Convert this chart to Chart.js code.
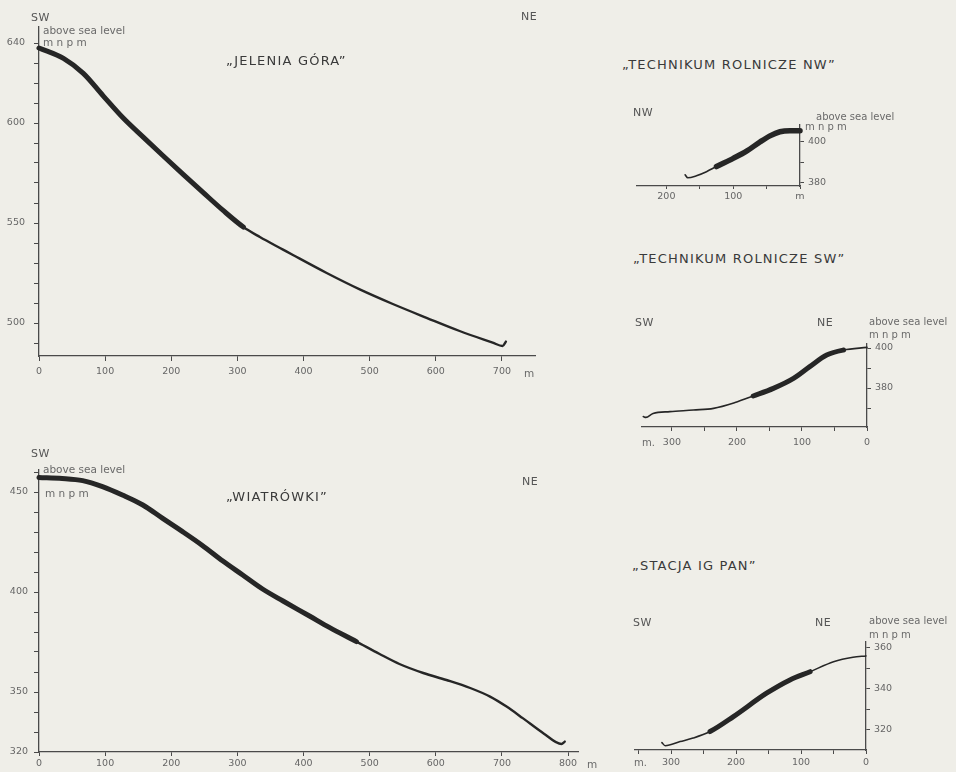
<!DOCTYPE html>
<html>
<head>
<meta charset="utf-8">
<script src="https://cdn.jsdelivr.net/npm/chart.js@4.4.1/dist/chart.umd.min.js"></script>
<style>
  html, body { margin: 0; padding: 0; background: #efeee8; }
  #sheet { position: relative; width: 956px; height: 772px; overflow: hidden; background: #efeee8; font-family: 'DejaVu Sans', sans-serif; }
  #sheet canvas { position: absolute; }
  .t { position: absolute; white-space: nowrap; transform: translateY(-50%); line-height: 1; }
  .title { font-size: 13px; letter-spacing: 1.2px; color: #3a3a3a; }
  .dir { font-size: 11px; color: #555; letter-spacing: 0.5px; }
  .unit { font-size: 10.5px; color: #6a6a6a; }
  .unit-s { font-size: 10px; color: #6a6a6a; }
</style>
</head>
<body>
<div id="sheet"></div>
<script>
// Slope profiles: distance along the profile (m) and elevation (m a.s.l.)

// "Jelenia Góra", SW -> NE
const JG_DIST = [0, 37, 67, 97, 127, 158, 188, 218, 248, 278, 309, 334, 369, 384, 435, 485, 535, 586, 636, 686, 701, 706];
const JG_ELEV = [637.5, 632.3, 624.8, 613.6, 602.6, 592.8, 583.5, 574.3, 565.3, 556.4, 548, 543, 536.7, 534, 525, 516.8, 509.5, 502.6, 496, 490.2, 488.5, 490.7];
const JG_BOLD = [0, 309];
const JG_Y_LABELS = [640, 600, 550, 500];

// "Wiatrówki", SW -> NE
const WI_DIST = [0, 35, 66, 96, 126, 157, 187, 217, 247, 278, 308, 338, 369, 409, 439, 480, 515, 545, 581, 616, 652, 682, 707, 732, 763, 790, 795];
const WI_ELEV = [457.3, 456.8, 455.7, 452.7, 448.5, 443.5, 436.8, 430.2, 423.3, 415.5, 408.5, 401.5, 395.5, 388, 382.3, 375.2, 369, 364, 359.5, 356, 352, 347.7, 342.7, 336.8, 329.3, 324, 325.2];
const WI_BOLD = [0, 482];
const WI_Y_LABELS = [450, 400, 350, 320];

// "Technikum Rolnicze NW" (distance counted from the station, NW to the left)
const NW_DIST = [172, 168, 155, 140, 125, 100, 80, 60, 45, 30, 15, 0];
const NW_ELEV = [384, 382.5, 383.5, 385.5, 388, 392, 395.5, 400, 403, 405, 405.5, 405.5];
const NW_BOLD = [0, 130];
const NW_Y_LABELS = [400, 380];
const NW_X_LABELS = [200, 100];

// "Technikum Rolnicze SW"
const SW_DIST = [344, 340, 329, 303, 267, 236, 203, 175, 144, 113, 88, 62, 36, 0];
const SW_ELEV = [365.7, 365.3, 367.3, 368.2, 369, 369.8, 372.7, 376, 379.8, 384.8, 390.7, 396.5, 399, 400.3];
const SW_BOLD = [5, 175];
const SW_Y_LABELS = [400, 380];
const SW_X_LABELS = [300, 200, 100, 0];

// "Stacja IG PAN"
const IG_DIST = [314, 309, 286, 266, 240, 204, 153, 117, 86, 50, 20, 0];
const IG_ELEV = [313.8, 312.3, 314.3, 316, 319.2, 326.5, 337.9, 344.4, 348.4, 353.3, 355.5, 356.1];
const IG_BOLD = [86, 240];
const IG_Y_LABELS = [360, 340, 320];
const IG_X_LABELS = [300, 200, 100, 0];

const INK = '#262626';
const AXIS = '#4a4a4a';
const LABEL = '#666';
const TICK_FONT = { family: "'DejaVu Sans', sans-serif", size: 9.5 };

const sheet = document.getElementById('sheet');

function profile(o) {
  const c = document.createElement('canvas');
  c.width = o.box.w; c.height = o.box.h;
  c.style.left = o.box.x + 'px'; c.style.top = o.box.y + 'px';
  sheet.appendChild(c);
  const right = !!o.yRight;
  const yW = right ? (o.box.x + o.box.w - o.area.r) : (o.area.l - o.box.x);
  const xH = o.box.y + o.box.h - o.area.b;
  const inBold = ctx => {
    const a = ctx.p0.parsed.x, b = ctx.p1.parsed.x;
    return Math.min(a, b) >= o.bold[0] - 0.01 && Math.max(a, b) <= o.bold[1] + 0.01;
  };
  return new Chart(c, {
    type: 'line',
    data: {
      datasets: [{
        data: o.dist.map((d, i) => ({ x: d, y: o.elev[i] })),
        borderColor: INK,
        borderWidth: o.thin,
        pointRadius: 0,
        cubicInterpolationMode: 'monotone',
        borderCapStyle: 'round',
        borderJoinStyle: 'round',
        clip: 10,
        segment: { borderWidth: ctx => inBold(ctx) ? o.thick : o.thin }
      }]
    },
    options: {
      responsive: false,
      animation: false,
      devicePixelRatio: 1,
      events: [],
      layout: {
        padding: {
          left: right ? o.area.l - o.box.x : 0,
          right: right ? 0 : o.box.x + o.box.w - o.area.r,
          top: o.area.t - o.box.y,
          bottom: 0
        }
      },
      plugins: { legend: { display: false }, tooltip: { enabled: false } },
      scales: {
        x: {
          type: 'linear',
          min: o.x.min, max: o.x.max, reverse: !!o.x.reverse,
          afterFit: s => { s.height = xH; },
          border: { color: AXIS, width: 1.3 },
          grid: { drawOnChartArea: false, tickLength: o.x.tl, tickColor: AXIS, tickWidth: 1 },
          ticks: {
            stepSize: o.x.step, includeBounds: false, autoSkip: false, maxRotation: 0,
            padding: o.x.pad, color: LABEL, font: TICK_FONT,
            callback: v => o.x.label(v)
          }
        },
        y: {
          type: 'linear',
          position: right ? 'right' : 'left',
          min: o.y.min, max: o.y.max,
          afterFit: s => { s.width = yW; },
          border: { color: AXIS, width: 1.3 },
          grid: { drawOnChartArea: false, tickLength: o.y.tl, tickColor: AXIS, tickWidth: 1 },
          ticks: {
            stepSize: 10, includeBounds: false, autoSkip: false,
            padding: o.y.pad, color: LABEL, font: TICK_FONT,
            callback: v => o.y.labels.includes(v) ? String(v) : ''
          }
        }
      }
    }
  });
}

profile({
  box: { x: 0, y: 0, w: 560, h: 385 }, area: { l: 39, r: 535, t: 27, b: 356 },
  dist: JG_DIST, elev: JG_ELEV, bold: JG_BOLD, thick: 5, thin: 2.4,
  x: { min: 0, max: 750, step: 100, tl: 5, pad: 5, label: v => String(v) },
  y: { min: 483.5, max: 648, tl: 5, pad: 9, labels: JG_Y_LABELS }
});

profile({
  box: { x: 0, y: 440, w: 620, h: 332 }, area: { l: 39, r: 578, t: 470, b: 752 },
  dist: WI_DIST, elev: WI_ELEV, bold: WI_BOLD, thick: 5, thin: 2.4,
  x: { min: 0, max: 815, step: 100, tl: 4, pad: 2, label: v => String(v) },
  y: { min: 320, max: 461, tl: 5, pad: 6, labels: WI_Y_LABELS }
});

profile({
  box: { x: 620, y: 100, w: 336, h: 120 }, area: { l: 637, r: 800, t: 125, b: 186 },
  yRight: true,
  dist: NW_DIST, elev: NW_ELEV, bold: NW_BOLD, thick: 5.5, thin: 1.6,
  x: { min: 0, max: 244, step: 50, reverse: true, tl: 3, pad: 2,
       label: v => v === 0 ? 'm' : (NW_X_LABELS.includes(v) ? String(v) : '') },
  y: { min: 378.5, max: 408.3, tl: 4, pad: 4, labels: NW_Y_LABELS }
});

profile({
  box: { x: 620, y: 320, w: 336, h: 140 }, area: { l: 642, r: 867, t: 344, b: 427 },
  yRight: true,
  dist: SW_DIST, elev: SW_ELEV, bold: SW_BOLD, thick: 5, thin: 1.6,
  x: { min: 0, max: 346, step: 50, reverse: true, tl: 4, pad: 6,
       label: v => SW_X_LABELS.includes(v) ? String(v) : '' },
  y: { min: 360.5, max: 402, tl: 4, pad: 4, labels: SW_Y_LABELS }
});

profile({
  box: { x: 620, y: 620, w: 336, h: 152 }, area: { l: 635, r: 866, t: 642, b: 750 },
  yRight: true,
  dist: IG_DIST, elev: IG_ELEV, bold: IG_BOLD, thick: 5, thin: 1.6,
  x: { min: 0, max: 355.4, step: 50, reverse: true, tl: 4, pad: 3,
       label: v => IG_X_LABELS.includes(v) ? String(v) : '' },
  y: { min: 310.2, max: 362.9, tl: 4, pad: 4, labels: IG_Y_LABELS }
});

// Titles, compass directions and unit captions
const TEXTS = [
  ['SW', 31, 17, 'dir'], ['NE', 521, 16, 'dir'],
  ['above sea level', 43, 30, 'unit'], ['m n p m', 43, 42, 'unit'],
  ['\u201EJELENIA GÓRA\u201D', 226, 60, 'title'], ['m', 524, 373, 'unit'],

  ['SW', 31, 453, 'dir'], ['NE', 522, 481, 'dir'],
  ['above sea level', 43, 469, 'unit'], ['m n p m', 45, 493, 'unit'],
  ['\u201EWIATRÓWKI\u201D', 226, 496, 'title'], ['m', 587, 764, 'unit'],

  ['\u201ETECHNIKUM ROLNICZE NW\u201D', 622, 64, 'title'],
  ['NW', 633, 112, 'dir'],
  ['above sea level', 816, 117, 'unit-s'], ['m n p m', 805, 127, 'unit-s'],

  ['\u201ETECHNIKUM ROLNICZE SW\u201D', 633, 258, 'title'],
  ['SW', 635, 322, 'dir'], ['NE', 817, 322, 'dir'],
  ['above sea level', 869, 322, 'unit-s'], ['m n p m', 869, 335, 'unit-s'],
  ['m.', 642, 443, 'unit-s'],

  ['\u201ESTACJA IG PAN\u201D', 632, 565, 'title'],
  ['SW', 633, 622, 'dir'], ['NE', 815, 622, 'dir'],
  ['above sea level', 869, 621, 'unit-s'], ['m n p m', 869, 635, 'unit-s'],
  ['m.', 634, 763, 'unit-s']
];
TEXTS.forEach(([s, x, y, cls]) => {
  const d = document.createElement('div');
  d.className = 't ' + cls;
  d.textContent = s;
  d.style.left = x + 'px';
  d.style.top = y + 'px';
  sheet.appendChild(d);
});
</script>
</body>
</html>
